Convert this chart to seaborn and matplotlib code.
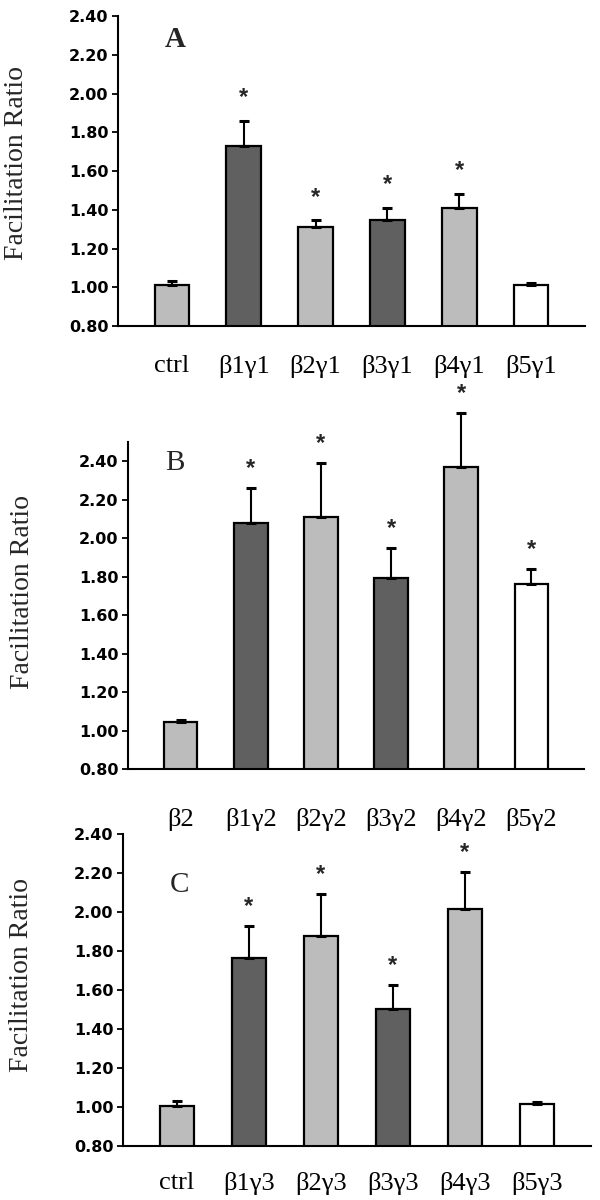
import matplotlib
matplotlib.use("Agg")
import matplotlib.pyplot as plt
import seaborn as sns
import numpy as np
import pandas as pd

sns.set_theme(style="white")
plt.rcParams['font.family'] = ['Liberation Serif', 'DejaVu Serif']

# ---- data ----
cats_a = ["ctrl", "β1γ1", "β2γ1", "β3γ1", "β4γ1", "β5γ1"]
vals_a = [1.01, 1.73, 1.31, 1.345, 1.41, 1.01]
sem_a = [0.02, 0.13, 0.035, 0.065, 0.07, 0.01]
sig_a = [False, True, True, True, True, False]

cats_b = ["β2", "β1γ2", "β2γ2", "β3γ2", "β4γ2", "β5γ2"]
vals_b = [1.045, 2.08, 2.11, 1.795, 2.37, 1.76]
sem_b = [0.01, 0.18, 0.28, 0.155, 0.28, 0.08]
sig_b = [False, True, True, True, True, True]

cats_c = ["ctrl", "β1γ3", "β2γ3", "β3γ3", "β4γ3", "β5γ3"]
vals_c = [1.005, 1.765, 1.875, 1.505, 2.015, 1.017]
sem_c = [0.025, 0.165, 0.215, 0.12, 0.19, 0.01]
sig_c = [False, True, True, True, True, False]

bar_colors = ["#bcbcbc", "#606060", "#bcbcbc", "#606060", "#bcbcbc", "#ffffff"]
yticks = [0.80, 1.00, 1.20, 1.40, 1.60, 1.80, 2.00, 2.20, 2.40]

panels = [
    dict(cats=cats_a, vals=vals_a, sem=sem_a, sig=sig_a, letter="A",
         rect=[118/600, 1-326/1200, 467/600, 310/1200], ylim=(0.8, 2.4),
         lpos=(0.05, 2.28), lweight="bold", labx=-0.19, laby=0.526, pad=15,
         star_off=0.12),
    dict(cats=cats_b, vals=vals_b, sem=sem_b, sig=sig_b, letter="B",
         rect=[128/600, 1-769/1200, 456/600, 327/1200], ylim=(0.8, 2.5),
         lpos=(-0.08, 2.39), lweight="normal", labx=-0.205, laby=0.54, pad=22,
         star_off=0.10),
    dict(cats=cats_c, vals=vals_c, sem=sem_c, sig=sig_c, letter="C",
         rect=[123/600, 1-1146/1200, 468/600, 312/1200], ylim=(0.8, 2.4),
         lpos=(0.03, 2.14), lweight="normal", labx=-0.19, laby=0.548, pad=13,
         star_off=0.10),
]

fig = plt.figure(figsize=(6, 12), dpi=100)

for p in panels:
    ax = fig.add_axes(p["rect"])
    df = pd.DataFrame({"cat": p["cats"], "val": p["vals"]})
    sns.barplot(data=df, x="cat", y="val", hue="cat", palette=bar_colors,
                legend=False, width=0.48, edgecolor="black", linewidth=1.6,
                ax=ax, zorder=2)
    x = np.arange(len(p["cats"]))
    eb = ax.errorbar(x, p["vals"], yerr=[np.zeros(len(x)), p["sem"]],
                     fmt="none", ecolor="black", elinewidth=1.5, capsize=3.5,
                     capthick=2.2, zorder=3)
    for child in eb.get_children():
        child.set_clip_on(False)
    for xi, v, s, sg in zip(x, p["vals"], p["sem"], p["sig"]):
        if sg:
            ax.text(xi, v + s + p["star_off"], "*", ha="center", va="center",
                    fontsize=17, fontweight="bold", family="Liberation Sans",
                    clip_on=False)
    ax.set_ylim(*p["ylim"])
    ax.set_xlim(-0.75, 5.75)
    ax.set_yticks(yticks)
    ax.set_yticklabels([f"{t:.2f}" for t in yticks])
    for lab in ax.get_yticklabels():
        lab.set_family("DejaVu Sans")
        lab.set_fontweight("bold")
        lab.set_fontsize(11.5)
    ax.tick_params(axis="y", left=True, direction="out", length=4, width=1.3,
                   pad=3, colors="black")
    ax.tick_params(axis="x", bottom=False, labelsize=19, pad=p["pad"],
                   colors="black")
    for lab in ax.get_xticklabels():
        lab.set_family("Liberation Serif")
    ax.set_xlabel("")
    ax.set_ylabel("Facilitation Ratio", fontsize=20, family="Liberation Serif")
    ax.yaxis.set_label_coords(p["labx"], p["laby"])
    for sp in ["top", "right"]:
        ax.spines[sp].set_visible(False)
    for sp in ["left", "bottom"]:
        ax.spines[sp].set_color("black")
        ax.spines[sp].set_linewidth(1.5)
    ax.text(p["lpos"][0], p["lpos"][1], p["letter"], fontsize=21,
            fontweight=p["lweight"], family="Liberation Serif",
            ha="center", va="center")
    ax.set_facecolor("white")

fig.savefig("out.png", dpi=100, facecolor="white")
